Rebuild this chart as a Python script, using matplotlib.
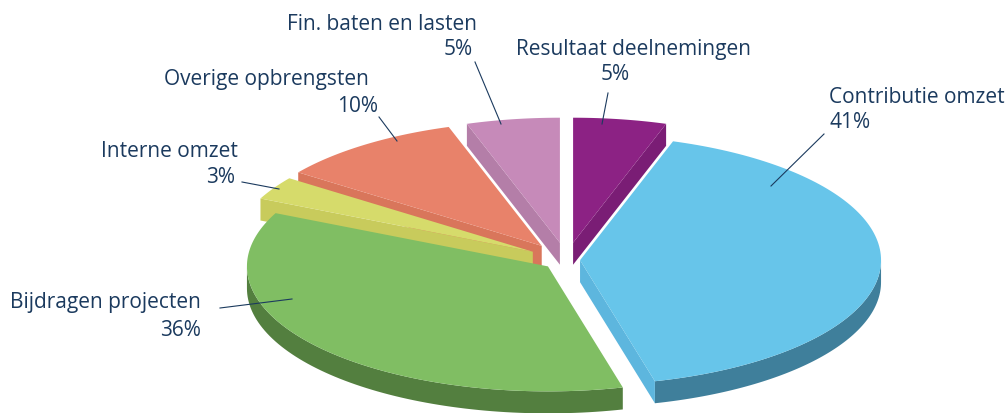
import matplotlib
matplotlib.use('Agg')
import matplotlib.pyplot as plt
import numpy as np
from matplotlib.patches import Polygon

plt.rcParams['font.family'] = ['Open Sans', 'DejaVu Sans']

# data, clockwise from 12 o'clock
labels = ['Resultaat deelnemingen', 'Contributie omzet', 'Bijdragen projecten',
          'Interne omzet', 'Overige opbrengsten', 'Fin. baten en lasten']
values = [5, 41, 36, 3, 10, 5]

# styling
explode = [0.14, 0.045, 0.08, 0.13, 0.14, 0.14]
top_colors = ['#8c2284', '#67c5ea', '#80be63', '#d6db6b', '#e8826a', '#c68ab9']
side_colors = ['#6f1a69', '#3f7f9b', '#537f3f', '#b9bd55', '#c46a54', '#a5729a']
wall_colors = ['#7a1d75', '#5db6de', '#6aa352', '#c8cb5c', '#d9765b', '#b47ea8']
text_color = '#1b3a5e'

cx, cy = 566.5, 260.0
rx, ry = 301.0, 125.0
depth = 22.0


def proj(c, theta, r=1.0, dz=0.0):
    t = np.radians(theta)
    return c[0] + rx * r * np.sin(t), c[1] - ry * r * np.cos(t) + dz


def draw_slice(ax, i, t0, t1):
    tm = 0.5 * (t0 + t1)
    e = explode[i]
    c = (cx + e * rx * np.sin(np.radians(tm)), cy - e * ry * np.cos(np.radians(tm)))

    # outer wall, only the part that faces the viewer (90..270 deg)
    lo, hi = max(t0, 90.0), min(t1, 270.0)
    if hi > lo:
        th = np.linspace(lo, hi, 80)
        xs, ys = proj(c, th)
        xb, yb = proj(c, th, dz=depth)
        pts = np.column_stack([np.r_[xs, xb[::-1]], np.r_[ys, yb[::-1]]])
        ax.add_patch(Polygon(pts, closed=True, fc=side_colors[i], ec='none'))

    # radial walls
    for ang, vis in [(t0, np.sin(np.radians(t0)) < -1e-6),
                     (t1, np.sin(np.radians(t1)) > 1e-6)]:
        if vis:
            ox, oy = proj(c, ang)
            pts = [(c[0], c[1]), (ox, oy), (ox, oy + depth), (c[0], c[1] + depth)]
            ax.add_patch(Polygon(pts, closed=True, fc=wall_colors[i], ec='none'))

    # top face
    th = np.linspace(t0, t1, 120)
    xs, ys = proj(c, th)
    pts = np.column_stack([np.r_[c[0], xs], np.r_[c[1], ys]])
    ax.add_patch(Polygon(pts, closed=True, fc=top_colors[i], ec='none'))


fig = plt.figure(figsize=(10.08, 4.13), dpi=100)
ax = fig.add_axes([0, 0, 1, 1])
ax.set_xlim(0, 1008)
ax.set_ylim(413, 0)
ax.axis('off')

total = float(sum(values))
bounds = np.cumsum([0] + values) / total * 360.0
# paint back-to-front by the depth of each slice's middle
order = sorted(range(len(values)),
               key=lambda k: -np.cos(np.radians(0.5 * (bounds[k] + bounds[k + 1]))))
for k in order:
    draw_slice(ax, k, bounds[k], bounds[k + 1])

# label layout: name pos, percent pos, alignment, leader line
layout = [
    ((516, 55), (601, 80), 'left', ((608, 93), (602, 124))),
    ((829, 103), (829, 128), 'left', ((824, 134), (771, 186))),
    ((201, 308), (201, 336), 'right', ((220, 308), (292, 299))),
    ((238, 157), (235, 183), 'right', ((242, 182), (279, 189))),
    ((369, 85), (378, 112), 'right', ((379, 117), (397, 141))),
    ((477, 30), (473, 55), 'right', ((475, 62), (501, 124))),
]
for k, (p1, p2, ha, (a, b)) in enumerate(layout):
    pct = '%d%%' % round(100 * values[k] / total)
    ax.text(p1[0], p1[1], labels[k], ha=ha, va='baseline', fontsize=15, color=text_color)
    ax.text(p2[0], p2[1], pct, ha=ha, va='baseline', fontsize=15, color=text_color)
    ax.plot([a[0], b[0]], [a[1], b[1]], color=text_color, lw=0.8)

plt.savefig('out.png', dpi=100)
